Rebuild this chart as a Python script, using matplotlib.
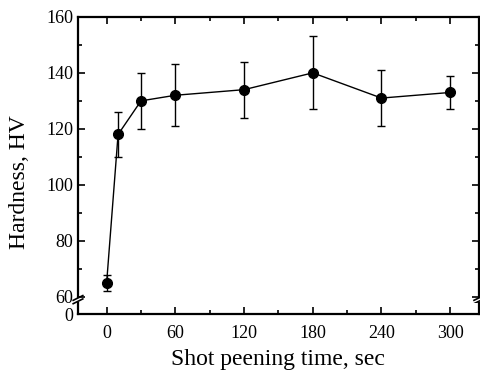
import matplotlib
matplotlib.use("Agg")
import matplotlib.pyplot as plt
from matplotlib.ticker import MultipleLocator

plt.rcParams['font.family'] = ['Liberation Serif', 'DejaVu Serif']

time = [0, 10, 30, 60, 120, 180, 240, 300]
hardness = [65, 118, 130, 132, 134, 140, 131, 133]
err = [3, 8, 10, 11, 10, 13, 10, 6]

fig = plt.figure(figsize=(4.8, 3.74), dpi=100)
# upper part 60-160, lower part just the 0 level
ax = fig.add_axes([0.1625, 0.206, 0.835, 0.749])
ax0 = fig.add_axes([0.1625, 0.1604, 0.835, 0.03])

ax.errorbar(time, hardness, yerr=err, fmt='o-', color='black', ms=7,
            lw=1, elinewidth=1, capsize=3, capthick=1)

for a in (ax, ax0):
    a.set_xlim(-25, 325)
    a.xaxis.set_major_locator(MultipleLocator(60))
    a.xaxis.set_minor_locator(MultipleLocator(30))
    a.tick_params(which='both', direction='in', top=True, right=True, width=1.2)
    a.tick_params(which='major', length=5, labelsize=13)
    a.tick_params(which='minor', length=3)
    a.tick_params(axis='x', pad=8)
    for s in a.spines.values():
        s.set_linewidth(1.6)

ax.set_ylim(60, 160)
ax.yaxis.set_major_locator(MultipleLocator(20))
ax.yaxis.set_minor_locator(MultipleLocator(10))
ax.spines['bottom'].set_visible(False)
ax.tick_params(axis='x', which='both', bottom=False, labelbottom=False)

ax0.set_ylim(0, 4)
ax0.set_yticks([0])
ax0.yaxis.set_minor_locator(MultipleLocator(100))
ax0.spines['top'].set_visible(False)
ax0.tick_params(axis='x', which='both', top=False)
ax0.tick_params(axis='y', which='both', right=False)

# break marks
for xb in (0, 1):
    for yoff in (-0.012, 0.0):
        ax.plot([xb - 0.012, xb + 0.012], [yoff - 0.012, yoff + 0.005],
                transform=ax.transAxes, color='black', lw=1.2, clip_on=False)

ax.set_ylabel('Hardness, HV', fontsize=17)
ax0.set_xlabel('Shot peening time, sec', fontsize=17, labelpad=5)
ax.yaxis.set_label_coords(-0.12, 0.41)

fig.savefig('out.png', dpi=100)
